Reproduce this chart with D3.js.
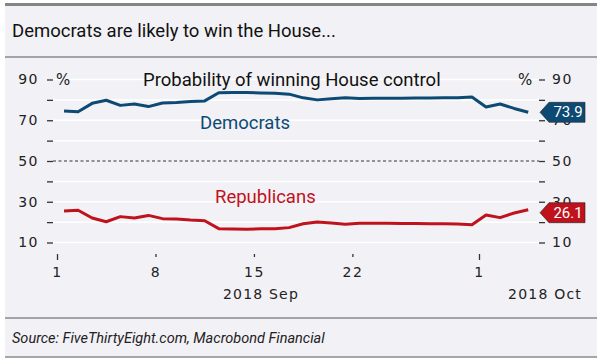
<!DOCTYPE html>
<html>
<head>
	<meta charset="utf-8">
	<title>House control probability</title>
	<style type="text/css">
		body { margin: 0; background: #fff; }
		svg { display: block; }
	</style>
	<script src="https://d3js.org/d3.v7.min.js"></script>
</head>
<body>
	<svg width="600" height="362"></svg>
	<script type="text/javascript">
		// daily readings, 1 Sep 2018 to 4 Oct 2018
		var startDay = new Date(2018, 8, 1);
		var demValues = [74.6, 74.2, 78.3, 79.8, 77.3, 78.0, 76.7, 78.5, 78.7, 79.2,
			79.5, 83.5, 83.6, 83.6, 83.4, 83.3, 82.8, 81.0, 80.0, 80.6,
			81.0, 80.7, 80.8, 80.8, 80.8, 80.9, 80.9, 81.0, 81.1, 81.4,
			76.5, 78.0, 75.8, 73.9];
		var repValues = [25.5, 25.8, 22.0, 20.2, 22.7, 22.0, 23.3, 21.7, 21.5, 21.0,
			20.7, 16.8, 16.6, 16.5, 16.7, 16.8, 17.3, 19.2, 20.1, 19.6,
			19.0, 19.4, 19.4, 19.4, 19.3, 19.3, 19.2, 19.2, 19.1, 18.7,
			23.5, 22.2, 24.5, 26.1];
		var yTicks = [10, 20, 30, 40, 50, 60, 70, 80, 90];
		var yTickLabels = [10, 30, 50, 70, 90];
		var xTickDays = [new Date(2018, 8, 1), new Date(2018, 8, 8), new Date(2018, 8, 15),
			new Date(2018, 8, 22), new Date(2018, 9, 1)];

		var demCol = '#0c4a73';
		var repCol = '#bf121d';
		var numFont = 'DejaVu Sans';
		var txtFont = 'Roboto';

		var svg = d3.select('svg');

		// frame
		svg.append('rect').attr('x', 5).attr('y', 4).attr('width', 592).attr('height', 353)
			.attr('fill', '#f2f1f6');
		svg.append('line').attr('x1', 5).attr('x2', 597).attr('y1', 4.5).attr('y2', 4.5)
			.attr('stroke', '#858585').attr('stroke-width', 3);
		svg.append('line').attr('x1', 5).attr('x2', 597).attr('y1', 57).attr('y2', 57)
			.attr('stroke', '#8a8a8a').attr('stroke-width', 1.5);
		svg.append('line').attr('x1', 5).attr('x2', 597).attr('y1', 318).attr('y2', 318)
			.attr('stroke', '#8a8a8a').attr('stroke-width', 1.5);
		svg.append('line').attr('x1', 5).attr('x2', 597).attr('y1', 357).attr('y2', 357)
			.attr('stroke', '#8a8a8a').attr('stroke-width', 1.5);

		svg.append('text').attr('x', 12).attr('y', 37)
			.attr('font-family', txtFont).attr('font-size', 18.5).attr('fill', '#111')
			.text('Democrats are likely to win the House...');
		svg.append('text').attr('x', 12).attr('y', 343)
			.attr('font-family', txtFont).attr('font-size', 14.5).attr('font-style', 'italic')
			.attr('fill', '#222')
			.text('Source: FiveThirtyEight.com, Macrobond Financial');

		// scales
		var plotL = 53, plotR = 539;
		var x = d3.scaleTime()
			.domain([new Date(2018, 8, 1), new Date(2018, 9, 1)])
			.range([57, 479]);
		var y = d3.scaleLinear().domain([10, 90]).range([242.5, 79.5]);

		// gridlines
		svg.selectAll('.grid')
			.data(yTicks.filter((d) => d != 50))
			.enter()
			.append('line')
			.attr('x1', plotL).attr('x2', plotR)
			.attr('y1', (d) => y(d)).attr('y2', (d) => y(d))
			.attr('stroke', '#ffffff').attr('stroke-width', 1.5);
		svg.append('line')
			.attr('x1', plotL).attr('x2', plotR)
			.attr('y1', y(50)).attr('y2', y(50))
			.attr('stroke', '#333').attr('stroke-width', 1)
			.attr('stroke-dasharray', '3,2.5');

		// y axes both sides
		var fmt = (d) => yTickLabels.includes(d) ? d : '';
		var gl = svg.append('g').attr('transform', 'translate(' + plotL + ',0)')
			.call(d3.axisLeft(y).tickValues(yTicks).tickSize(6).tickPadding(8).tickFormat(fmt));
		var gr = svg.append('g').attr('transform', 'translate(' + plotR + ',0)')
			.call(d3.axisRight(y).tickValues(yTicks).tickSize(6).tickPadding(7).tickFormat(fmt));
		[gl, gr].forEach((g) => {
			g.select('.domain').remove();
			g.selectAll('.tick line').attr('stroke', '#333').attr('stroke-width', 1.3);
			g.selectAll('.tick text').attr('font-family', numFont).attr('font-size', 14)
				.attr('letter-spacing', 1.5).attr('fill', '#222');
		});

		svg.append('text').attr('x', 56).attr('y', 85)
			.attr('font-family', numFont).attr('font-size', 15).attr('fill', '#222').text('%');
		svg.append('text').attr('x', 518).attr('y', 85)
			.attr('font-family', numFont).attr('font-size', 15).attr('fill', '#222').text('%');

		// x axis
		var xAxis = d3.axisBottom(x).tickValues(xTickDays)
			.tickSize(3).tickPadding(10)
			.tickFormat(d3.timeFormat('%-d'));
		var gx = svg.append('g').attr('transform', 'translate(0,254)').call(xAxis);
		gx.select('.domain').remove();
		gx.selectAll('.tick line').attr('stroke', '#333').attr('stroke-width', 1.3)
			.attr('y2', (d) => d.getDate() == 1 ? 6 : 3);
		gx.selectAll('.tick text').attr('font-family', numFont).attr('font-size', 14)
			.attr('letter-spacing', 1.5).attr('fill', '#222');

		svg.append('text').attr('x', x(new Date(2018, 8, 15, 12))).attr('y', 299)
			.attr('text-anchor', 'middle')
			.attr('font-family', numFont).attr('font-size', 14).attr('letter-spacing', 1.2)
			.attr('fill', '#222').text('2018 Sep');
		svg.append('text').attr('x', 582).attr('y', 299)
			.attr('text-anchor', 'end')
			.attr('font-family', numFont).attr('font-size', 14).attr('letter-spacing', 1.2)
			.attr('fill', '#222').text('2018 Oct');

		// series lines, each reading placed at midday
		var dayAt = (i) => d3.timeHour.offset(d3.timeDay.offset(startDay, i), 12);
		var line = d3.line()
			.x((d, i) => x(dayAt(i)))
			.y((d) => y(d));

		var series = [
			{name: 'Democrats', vals: demValues, col: demCol, lx: 200, ly: 129, shift: 0},
			{name: 'Republicans', vals: repValues, col: repCol, lx: 215, ly: 203, shift: 3}
		];

		series.forEach((s) => {
			svg.append('path')
				.attr('d', line(s.vals))
				.attr('fill', 'none')
				.attr('stroke', s.col)
				.attr('stroke-width', 3)
				.attr('stroke-linejoin', 'round');

			svg.append('text').attr('x', s.lx).attr('y', s.ly)
				.attr('font-family', txtFont).attr('font-size', 18.5).attr('fill', s.col)
				.text(s.name);

			// last value tag on the right axis, drawn over the axis labels
			var last = s.vals[s.vals.length - 1];
			var cy = y(last) + s.shift;
			var tag = [[540, cy], [549, cy - 10], [585, cy - 10], [585, cy + 10], [549, cy + 10]];
			svg.append('path')
				.attr('d', d3.line()(tag) + 'Z')
				.attr('fill', s.col)
				.attr('stroke', '#222').attr('stroke-width', 0.6);
			svg.append('text').attr('x', 568).attr('y', cy + 5)
				.attr('text-anchor', 'middle')
				.attr('font-family', txtFont).attr('font-size', 15).attr('fill', '#fff')
				.text(last.toFixed(1));
		});

		svg.append('text').attr('x', 143).attr('y', 86)
			.attr('font-family', txtFont).attr('font-size', 18.5).attr('fill', '#111')
			.text('Probability of winning House control');
	</script>
</body>
</html>
